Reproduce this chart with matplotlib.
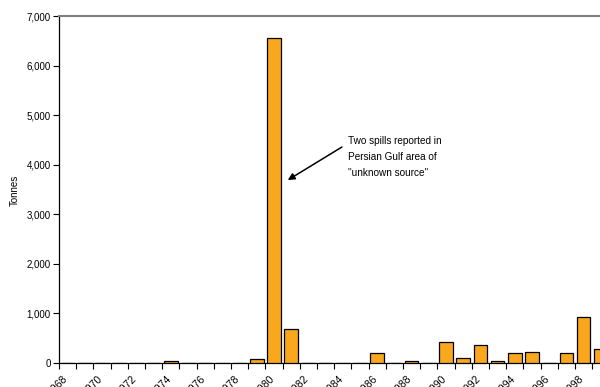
import matplotlib
matplotlib.use("Agg")
import matplotlib.pyplot as plt
from matplotlib.ticker import FuncFormatter

plt.rcParams['font.family'] = ['Liberation Sans Narrow', 'Liberation Sans', 'DejaVu Sans']

years = list(range(1968, 2003))
tonnes = [0, 0, 0, 0, 0, 0, 40, 0, 0, 0, 0, 80, 6560, 680,
          0, 0, 0, 0, 195, 0, 40, 0, 424, 100, 363, 40, 195, 215,
          0, 195, 922, 277, 0, 0, 0]
label_years = list(range(1968, 2003, 2))
y_ticks = [0, 1000, 2000, 3000, 4000, 5000, 6000, 7000]
annotation = 'Two spills reported in\nPersian Gulf area of\n"unknown source"'

fig = plt.figure(figsize=(6, 3.87), dpi=100)
ax = fig.add_axes([59/600, 24/387, 602/600, 347/387])

ax.bar(years, tonnes, width=0.78, color='#F9A81E', edgecolor='black', linewidth=0.9, zorder=3)

ax.set_xlim(1967.5, 2002.5)
ax.set_ylim(0, 7000)

ax.set_yticks(y_ticks)
ax.yaxis.set_major_formatter(FuncFormatter(lambda v, p: f'{int(v):,}'))
ax.tick_params(axis='y', length=4, width=0.8, labelsize=7, pad=2)

ax.set_xticks([y - 0.5 for y in years])
ax.set_xticklabels([])
ax.tick_params(axis='x', which='major', length=4, width=0.8)
ax.set_xticks([y - 0.3 for y in label_years], minor=True)
ax.set_xticklabels([str(y) for y in label_years], minor=True, rotation=45,
                   ha='right', va='top', rotation_mode='anchor', fontsize=7.5)
ax.tick_params(axis='x', which='minor', length=0, pad=8)

ax.spines['right'].set_visible(False)
ax.spines['top'].set_color('#808080')
ax.spines['top'].set_linewidth(1.5)
ax.spines['left'].set_linewidth(0.9)
ax.spines['bottom'].set_linewidth(0.9)

fig.text(15/600, 1 - 190/387, 'Tonnes', rotation=90, ha='center', va='center', fontsize=7)

ax.text(1984.3, 4160, annotation, fontsize=7.2, ha='left', va='center', linespacing=1.75)
ax.annotate('', xy=(1980.8, 3690), xytext=(1983.95, 4357),
            arrowprops=dict(arrowstyle='-|>', color='black', lw=1.1,
                            mutation_scale=10, shrinkA=0, shrinkB=0))

fig.savefig('out.png', dpi=100)
